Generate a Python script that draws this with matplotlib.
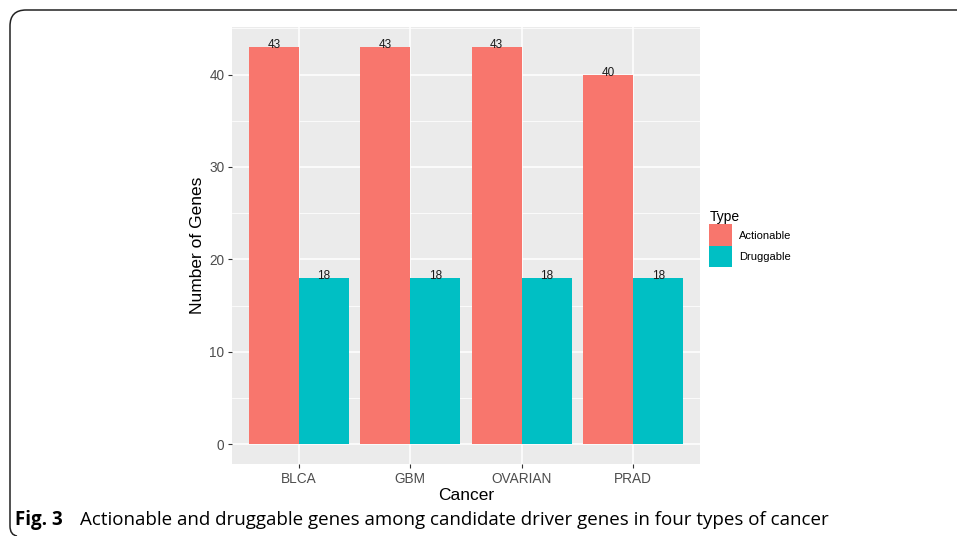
import numpy as np
import matplotlib
matplotlib.use('Agg')
import matplotlib.pyplot as plt
from matplotlib.path import Path
from matplotlib.patches import PathPatch, Patch
from matplotlib.ticker import MultipleLocator

plt.rcParams['font.family'] = ['Liberation Sans', 'DejaVu Sans']

# data
cancers = ['BLCA', 'GBM', 'OVARIAN', 'PRAD']
types = ['Actionable', 'Druggable']
actionable = [43, 43, 43, 40]
druggable = [18, 18, 18, 18]
colors = ['#F8766D', '#00BFC4']

W, H = 957, 536
fig = plt.figure(figsize=(W / 100, H / 100), dpi=100)

def fx(px):
    return px / W

def fy(py):
    return (H - py) / H

# panel in pixel coords: left 232, right 700, top 27, bottom 464
ax = fig.add_axes([fx(232), fy(464), fx(700) - fx(232), fy(27) - fy(464)])
ax.set_facecolor('#EBEBEB')

x = np.arange(1, len(cancers) + 1)
w = 0.45
b1 = ax.bar(x - w / 2, actionable, w, color=colors[0], zorder=3)
b2 = ax.bar(x + w / 2, druggable, w, color=colors[1], zorder=3)

for bars, vals in [(b1, actionable), (b2, druggable)]:
    for bar, v in zip(bars, vals):
        ax.text(bar.get_x() + bar.get_width() / 2, v - 0.45, str(v),
                ha='center', va='bottom', fontsize=8.5, color='#1a1a1a', zorder=4)

ax.set_xlim(0.4, 4.6)
ax.set_ylim(-2.15, 45.15)
ax.set_xticks(x)
ax.set_xticklabels(cancers)
ax.yaxis.set_major_locator(MultipleLocator(10))
ax.yaxis.set_minor_locator(MultipleLocator(5))
ax.grid(which='major', color='white', linewidth=1.1, zorder=0)
ax.grid(which='minor', axis='y', color='white', linewidth=0.55, zorder=0)
ax.set_axisbelow(True)
for s in ax.spines.values():
    s.set_visible(False)
ax.tick_params(axis='both', which='major', length=3, width=0.8, color='#333333',
               labelcolor='#4D4D4D', labelsize=9.8, pad=2.5)
ax.tick_params(axis='y', which='minor', length=0)

ax.set_xlabel('Cancer', fontsize=12.5, color='black', labelpad=2)
ax.set_ylabel('Number of Genes', fontsize=12.5, color='black', labelpad=3)

handles = [Patch(facecolor=c, edgecolor='none') for c in colors]
leg = fig.legend(handles, types, title='Type', loc='upper left',
                 bbox_to_anchor=(fx(705), fy(206)), frameon=False,
                 fontsize=8, title_fontsize=10, handlelength=2.0, handleheight=2.6,
                 labelspacing=0.0, handletextpad=0.7, borderaxespad=0, alignment='left')

# caption
fig.text(fx(15), fy(520), 'Fig. 3', fontsize=13.5, fontweight='bold',
         family='Open Sans', va='center', ha='left')
fig.text(fx(80), fy(520), 'Actionable and druggable genes among candidate driver genes in four types of cancer',
         fontsize=13.5, family='Open Sans', va='center', ha='left')

# outer rounded frame
verts = [(W, 10), (26, 10), (10, 10), (10, 26), (10, 526), (10, 535), (17, 536)]
codes = [Path.MOVETO, Path.LINETO, Path.CURVE3, Path.CURVE3, Path.LINETO, Path.CURVE3, Path.CURVE3]
path = Path([(fx(a), fy(b)) for a, b in verts], codes)
fig.add_artist(PathPatch(path, facecolor='none', edgecolor='#222222', linewidth=1.1,
                         transform=fig.transFigure))

fig.savefig('out.png', dpi=100)
